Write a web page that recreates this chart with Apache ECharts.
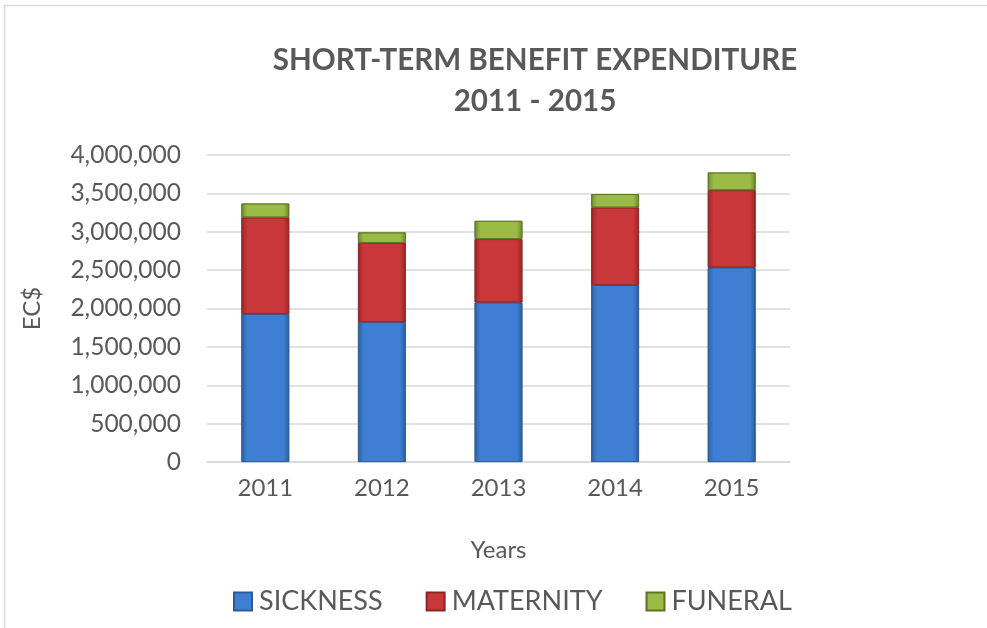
<!DOCTYPE html>
<html><head><meta charset="utf-8">
<script src="https://cdn.jsdelivr.net/npm/echarts@6/dist/echarts.min.js"></script>
<style>html,body{margin:0;padding:0;background:#fff}#c{width:987px;height:628px}</style>
</head><body><div id="c"></div>
<script>
const years = ['2011','2012','2013','2014','2015'];
const sickness = [1927000, 1823000, 2079000, 2305000, 2535000];
const maternity = [1259000, 1032000, 825000, 1011000, 1007000];
const funeral = [182000, 136000, 238000, 174000, 230000];
const yTicks = [0, 500000, 1000000, 1500000, 2000000, 2500000, 3000000, 3500000, 4000000];

function grad(c1, c2, c3) {
  return new echarts.graphic.LinearGradient(0, 0, 1, 0, [
    {offset: 0, color: c2}, {offset: 0.12, color: c1}, {offset: 0.88, color: c1}, {offset: 1, color: c3}
  ]);
}
const font = 'Lato, "Open Sans", sans-serif';
const chart = echarts.init(document.getElementById('c'));
chart.setOption({
  animation: false,
  backgroundColor: '#fff',
  graphic: [{type: 'rect', shape: {x: 4.5, y: 5.5, width: 1000, height: 700}, style: {fill: 'none', stroke: '#d9d9d9', lineWidth: 1.5}}],
  title: {
    text: 'SHORT-TERM BENEFIT EXPENDITURE\n2011 - 2015',
    left: 535, top: 35, textAlign: 'center',
    textStyle: {fontFamily: font, fontWeight: 'bold', fontSize: 29.6, color: '#595959', lineHeight: 41}
  },
  legend: {
    bottom: 8, left: 228, itemWidth: 18, itemHeight: 18, itemGap: 43, icon: 'rect',
    textStyle: {fontFamily: font, fontSize: 27, color: '#595959', padding: [0, 0, 0, 2]},
    data: ['SICKNESS', 'MATERNITY', 'FUNERAL']
  },
  grid: {left: 207, right: 197, top: 155, bottom: 166},
  xAxis: {
    type: 'category', data: years,
    name: 'Years', nameLocation: 'middle', nameGap: 76,
    nameTextStyle: {fontFamily: font, fontSize: 24, color: '#595959'},
    axisLine: {lineStyle: {color: '#d9d9d9', width: 1.5}},
    axisTick: {show: false},
    axisLabel: {fontFamily: font, fontSize: 24, color: '#595959', margin: 14}
  },
  yAxis: {
    type: 'value', min: 0, max: 4000000, interval: 500000,
    name: 'EC$', nameLocation: 'middle', nameGap: 163, nameRotate: 90,
    nameTextStyle: {fontFamily: font, fontSize: 24, color: '#595959'},
    axisLine: {show: false}, axisTick: {show: false},
    splitLine: {lineStyle: {color: '#d9d9d9', width: 1.5}},
    axisLabel: {fontFamily: font, fontSize: 24.5, color: '#595959', margin: 26,
      formatter: v => v.toLocaleString('en-US')}
  },
  series: [
    {name: 'SICKNESS', type: 'bar', stack: 't', data: sickness, barWidth: '41%',
      itemStyle: {color: grad('#3e7fd4', '#2c5f9f', '#2b5c9a'), borderColor: '#2d5a95', borderWidth: 0.8}},
    {name: 'MATERNITY', type: 'bar', stack: 't', data: maternity,
      itemStyle: {color: grad('#c9373a', '#9a2628', '#9a2628'), borderColor: '#8d2426', borderWidth: 0.8}},
    {name: 'FUNERAL', type: 'bar', stack: 't', data: funeral,
      itemStyle: {color: grad('#9bbb47', '#6f8a2e', '#6c872b'), borderColor: '#5d7424', borderWidth: 0.8}}
  ]
});
chart.setOption({title: {left: 530}});
</script></body></html>
